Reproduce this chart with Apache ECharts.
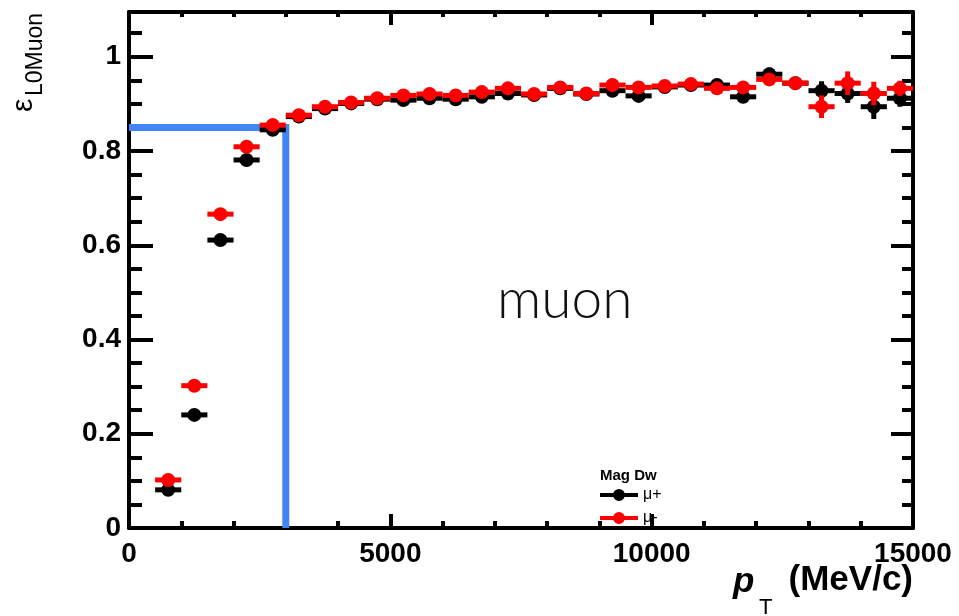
<!DOCTYPE html>
<html>
<head>
<meta charset="utf-8">
<script src="https://cdn.jsdelivr.net/npm/echarts@6/dist/echarts.min.js"></script>
<style>
  html, body { margin: 0; padding: 0; background: #fff; }
  #chart { width: 959px; height: 616px; }
</style>
</head>
<body>
<div id="chart"></div>
<script>
// L0Muon trigger efficiency vs transverse momentum, MagDown, mu+ and mu-
const binCenters = [750, 1250, 1750, 2250, 2750, 3250, 3750, 4250, 4750, 5250,
  5750, 6250, 6750, 7250, 7750, 8250, 8750, 9250, 9750, 10250,
  10750, 11250, 11750, 12250, 12750, 13250, 13750, 14250, 14750];
const binHalfWidth = 250;

const effMuPlus = [0.081, 0.240, 0.611, 0.781, 0.845, 0.873, 0.890, 0.901, 0.910, 0.908,
  0.912, 0.910, 0.915, 0.922, 0.919, 0.933, 0.921, 0.928, 0.917, 0.936,
  0.940, 0.940, 0.915, 0.963, 0.944, 0.928, 0.922, 0.894, 0.912];
const errMuPlus = [0.004, 0.005, 0.005, 0.004, 0.004, 0.004, 0.004, 0.004, 0.004, 0.005,
  0.005, 0.005, 0.006, 0.006, 0.006, 0.007, 0.007, 0.008, 0.008, 0.009,
  0.009, 0.010, 0.010, 0.014, 0.012, 0.020, 0.020, 0.026, 0.018];

const effMuMinus = [0.102, 0.302, 0.666, 0.809, 0.855, 0.876, 0.894, 0.903, 0.912, 0.918,
  0.921, 0.918, 0.925, 0.933, 0.921, 0.935, 0.922, 0.940, 0.935, 0.938,
  0.942, 0.933, 0.935, 0.952, 0.944, 0.894, 0.944, 0.922, 0.933];
const errMuMinus = [0.004, 0.005, 0.005, 0.004, 0.004, 0.004, 0.004, 0.004, 0.004, 0.005,
  0.005, 0.005, 0.006, 0.006, 0.006, 0.007, 0.007, 0.008, 0.008, 0.009,
  0.009, 0.010, 0.010, 0.012, 0.012, 0.024, 0.025, 0.025, 0.016];

// Working point: pT threshold and the efficiency reached there
const cutPt = 3000;
const cutEff = 0.85;

const xTicks = [0, 5000, 10000, 15000];
const yTicks = [0, 0.2, 0.4, 0.6, 0.8, 1];

const X_MIN = 0, X_MAX = 15000, Y_MIN = 0, Y_MAX = 1.095;

function toPoints(eff, err) {
  return binCenters.map((x, i) => [x, eff[i], err[i]]);
}

function renderErrorPoint(params, api) {
  const x = api.value(0), y = api.value(1), ey = api.value(2);
  const left = api.coord([x - binHalfWidth, y]);
  const right = api.coord([x + binHalfWidth, y]);
  const top = api.coord([x, y + ey]);
  const bottom = api.coord([x, y - ey]);
  const c = api.coord([x, y]);
  const color = api.visual('color');
  return {
    type: 'group',
    children: [
      { type: 'line', shape: { x1: left[0], y1: left[1], x2: right[0], y2: right[1] },
        style: { stroke: color, lineWidth: 5 } },
      { type: 'line', shape: { x1: top[0], y1: top[1], x2: bottom[0], y2: bottom[1] },
        style: { stroke: color, lineWidth: 5 } },
      { type: 'circle', shape: { cx: c[0], cy: c[1], r: 7 }, style: { fill: color } }
    ]
  };
}

const FONT = "'Liberation Sans', Arial, sans-serif";
const tickLabelStyle = { fontFamily: FONT, fontWeight: 'bold', fontSize: 28, color: '#000' };

function xAxisDef(position, major, minor, showLabel) {
  return {
    type: 'value', position, min: X_MIN, max: X_MAX, interval: 5000,
    axisLine: { show: true, onZero: false, lineStyle: { color: '#000', width: 4 } },
    axisTick: { show: true, inside: true, length: major, lineStyle: { color: '#000', width: 4 } },
    minorTick: { show: true, splitNumber: 5, length: minor, lineStyle: { color: '#000', width: 4 } },
    axisLabel: showLabel ? Object.assign({ margin: 12,
      formatter: v => xTicks.includes(v) ? String(v) : '' }, tickLabelStyle) : { show: false },
    splitLine: { show: false }
  };
}

function yAxisDef(position, interval, tickLen, showLine, showLabel) {
  return {
    type: 'value', position, min: Y_MIN, max: Y_MAX, interval,
    axisLine: { show: showLine, onZero: false, lineStyle: { color: '#000', width: 4 } },
    axisTick: { show: true, inside: true, length: tickLen, lineStyle: { color: '#000', width: 4 } },
    axisLabel: showLabel ? Object.assign({ margin: 8,
      formatter: v => {
        const m = yTicks.find(t => Math.abs(t - v) < 1e-6);
        return m === undefined ? '' : String(m);
      } }, tickLabelStyle) : { show: false },
    splitLine: { show: false }
  };
}

const legendIcon = 'path://M0,4L38,4L38,8L0,8Z M13,6A6,6 0 1,1 25,6A6,6 0 1,1 13,6Z';

const chart = echarts.init(document.getElementById('chart'), null, { renderer: 'canvas' });

chart.setOption({
  backgroundColor: '#fff',
  animation: false,
  grid: { left: 129, right: 46, top: 12, bottom: 88, containLabel: false },
  xAxis: [
    xAxisDef('bottom', 14, 7, true),
    xAxisDef('top', 13, 5, false)
  ],
  yAxis: [
    yAxisDef('left', 0.2, 24, true, true),
    yAxisDef('left', 0.05, 13, false, false),
    yAxisDef('right', 0.2, 22, true, false),
    yAxisDef('right', 0.05, 11, false, false)
  ],
  legend: {
    left: 600, top: 487, orient: 'vertical', padding: 0,
    itemWidth: 38, itemHeight: 12, itemGap: 7,
    textStyle: { fontFamily: FONT, fontSize: 16, color: '#000' },
    data: [
      { name: 'μ+', icon: legendIcon },
      { name: 'μ-', icon: legendIcon }
    ]
  },
  graphic: [
    { type: 'text', left: 600, top: 468, z: 100,
      style: { text: 'Mag Dw', fontFamily: FONT, fontWeight: 'bold', fontSize: 15, fill: '#000' } },
    { type: 'text', x: 497, y: 300, z: 100,
      style: { text: 'muon', fontFamily: "Lato, 'DejaVu Sans', sans-serif", fontWeight: 300, fontSize: 55,
        fill: '#111', align: 'left', verticalAlign: 'middle' } },
    // x-axis title
    { type: 'text', x: 733, y: 582, z: 100,
      style: { text: 'p', fontFamily: FONT, fontWeight: 'bold', fontStyle: 'italic', fontSize: 35,
        fill: '#000', align: 'left', verticalAlign: 'middle' } },
    { type: 'text', x: 759, y: 608, z: 100,
      style: { text: 'T', fontFamily: FONT, fontSize: 22, fill: '#000', align: 'left', verticalAlign: 'middle' } },
    { type: 'text', x: 913, y: 580, z: 100,
      style: { text: '(MeV/c)', fontFamily: FONT, fontWeight: 'bold', fontSize: 35,
        fill: '#000', align: 'right', verticalAlign: 'middle' } },
    // y-axis title, reading upwards
    { type: 'text', x: 24, y: 112, rotation: Math.PI / 2, z: 100,
      style: { text: 'ε', fontFamily: FONT, fontSize: 30, fill: '#000', align: 'left', verticalAlign: 'middle' } },
    { type: 'text', x: 36, y: 96, rotation: Math.PI / 2, z: 100,
      style: { text: 'L0Muon', fontFamily: FONT, fontSize: 23, fill: '#000', align: 'left', verticalAlign: 'middle' } }
  ],
  series: [
    {
      name: 'threshold', type: 'line', xAxisIndex: 0, yAxisIndex: 0,
      data: [[X_MIN, cutEff], [cutPt, cutEff], [cutPt, Y_MIN]],
      symbol: 'none', silent: true, z: 1,
      lineStyle: { color: '#4285f4', width: 7, join: 'miter', cap: 'butt' }
    },
    {
      name: 'μ+', type: 'custom', xAxisIndex: 0, yAxisIndex: 0,
      itemStyle: { color: '#000000' }, z: 3, clip: true,
      renderItem: renderErrorPoint,
      encode: { x: 0, y: 1 },
      data: toPoints(effMuPlus, errMuPlus)
    },
    {
      name: 'μ-', type: 'custom', xAxisIndex: 0, yAxisIndex: 0,
      itemStyle: { color: '#ff0000' }, z: 4, clip: true,
      renderItem: renderErrorPoint,
      encode: { x: 0, y: 1 },
      data: toPoints(effMuMinus, errMuMinus)
    }
  ]
});
</script>
</body>
</html>
